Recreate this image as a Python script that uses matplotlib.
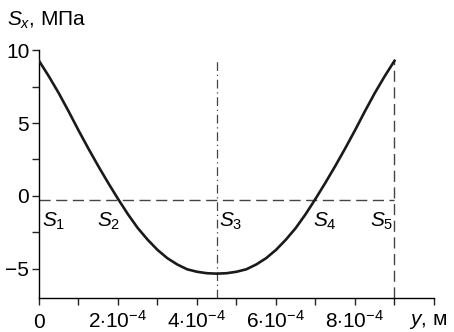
import numpy as np
import matplotlib
matplotlib.use('Agg')
import matplotlib.pyplot as plt

plt.rcParams['font.family'] = ['Liberation Sans', 'DejaVu Sans']
plt.rcParams['mathtext.fontset'] = 'custom'
plt.rcParams['mathtext.rm'] = 'Liberation Sans'
plt.rcParams['mathtext.it'] = 'Liberation Sans:italic'

# coordinate across the plate, m
y_pos = [0.0, 0.25e-4, 0.5e-4, 0.75e-4, 1.0e-4, 1.25e-4, 1.5e-4, 1.75e-4, 2.0e-4,
         2.25e-4, 2.5e-4, 2.75e-4, 3.0e-4, 3.25e-4, 3.5e-4, 3.75e-4, 4.0e-4, 4.25e-4,
         4.5e-4, 4.75e-4, 5.0e-4, 5.25e-4, 5.5e-4, 5.75e-4, 6.0e-4, 6.25e-4, 6.5e-4,
         6.75e-4, 7.0e-4, 7.25e-4, 7.5e-4, 7.75e-4, 8.0e-4, 8.25e-4, 8.5e-4, 8.75e-4, 9.0e-4]
# stress S_x, MPa
s_x = [9.27, 8.2, 7.05, 5.8, 4.5, 3.25, 2.05, 0.9, -0.2,
       -1.25, -2.2, -3.0, -3.7, -4.27, -4.7, -5.03, -5.2, -5.3,
       -5.33, -5.3, -5.2, -5.03, -4.7, -4.27, -3.7, -3.0, -2.2,
       -1.25, -0.2, 0.9, 2.05, 3.25, 4.5, 5.8, 7.05, 8.2, 9.27]

s_level = -0.27          # reference level of the dashed line
y_mid = 4.5e-4           # dash-dot line at the minimum
y_end = 9.0e-4           # dashed line at the edge

# point labels S1..S5: x position, alignment
s_names = ['$S_1$', '$S_2$', '$S_3$', '$S_4$', '$S_5$']
s_x_pos = [0.08e-4, 2.07e-4, 4.55e-4, 6.93e-4, 8.97e-4]
s_align = ['left', 'right', 'left', 'left', 'right']

x_ticks = [i * 1e-4 for i in range(11)]
x_labels = ['0', '', r'$2{\cdot}10^{-4}$', '', r'$4{\cdot}10^{-4}$', '',
            r'$6{\cdot}10^{-4}$', '', r'$8{\cdot}10^{-4}$', '', '']

FS = 15

fig = plt.figure(figsize=(4.54, 3.32), dpi=100)
ax = fig.add_axes([0.0859, 0.1024, 0.870, 0.7466])

ax.plot(y_pos, s_x, color='#1a1a1a', lw=1.9, zorder=3)
ax.plot([0, y_end], [s_level, s_level], color='#444444', lw=1.0,
        dashes=(8, 4))
ax.plot([y_end, y_end], [-7, s_x[-1]], color='#444444', lw=1.0, dashes=(8, 4))
ax.plot([y_mid, y_mid], [-7, s_x[-1]], color='#444444', lw=0.9,
        dashes=(7, 3, 1, 3))

for name, xp, ha in zip(s_names, s_x_pos, s_align):
    ax.text(xp, s_level - 0.75, name, ha=ha, va='top', fontsize=FS)

ax.set_xlim(0, 10e-4)
ax.set_ylim(-7, 10)
ax.spines['top'].set_visible(False)
ax.spines['right'].set_visible(False)
ax.spines['left'].set_linewidth(1.0)
ax.spines['bottom'].set_linewidth(1.0)

ax.set_xticks(x_ticks)
ax.set_xticklabels(x_labels)
ax.set_yticks([-5, 0, 5, 10])
ax.set_yticklabels(['\u22125', '0', '5', '10'])
ax.set_yticks([-2.5, 2.5, 7.5], minor=True)
ax.tick_params(axis='both', which='both', direction='out', length=5, width=1.0,
               labelsize=FS, color='#222222')
ax.tick_params(axis='x', pad=16.5)
ax.tick_params(axis='y', pad=2)
for tick in ax.xaxis.get_major_ticks():
    tick.label1.set_verticalalignment('baseline')

# axis names
fig.text(0.015, 0.922, '$S_x$, МПа', fontsize=FS, ha='left', va='baseline')
fig.text(0.943, 0.022, '$y$, м', fontsize=FS, ha='center', va='baseline')

fig.savefig('out.png', dpi=100)
